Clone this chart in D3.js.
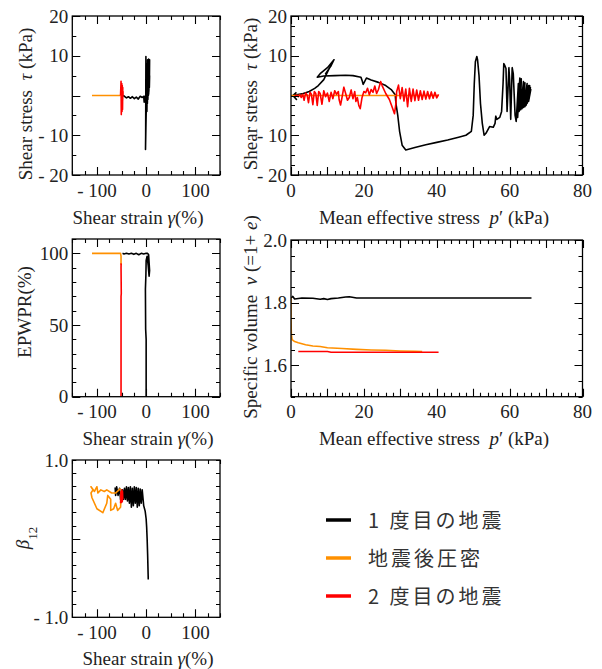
<!DOCTYPE html>
<html>
<head>
<meta charset="utf-8">
<script src="https://cdnjs.cloudflare.com/ajax/libs/d3/7.8.5/d3.min.js"></script>
</head>
<body style="margin:0">
<div class="main"></div>
<script>
var container = d3.select('.main');
var options = {
    'width': 602,
    'height': 669,
};

// series colours / legend
var legendNames = ['1 度目の地震', '地震後圧密', '2 度目の地震'];
var colors = ['#000000', '#ff9000', '#ff0000'];

// tick labels
var strainLabelValues = [-100, 0, 100];
var strainLabels = ['- 100', '0', '100'];
var tauLabelValues = [20, 10, -10, -20];
var tauLabels = ['20', '10', '- 10', '- 20'];
var pLabelValues = [0, 20, 40, 60, 80];
var pLabels = ['0', '20', '40', '60', '80'];
var epwprLabelValues = [0, 50, 100];
var epwprLabels = ['0', '50', '100'];
var volLabelValues = [1.6, 1.8, 2.0];
var volLabels = ['1.6', '1.8', '2.0'];
var betaLabelValues = [1, -1];
var betaLabels = ['1.0', '- 1.0'];

// shear stress tau vs shear strain gamma  [gamma, tau]
var tauGamma1st = [[0, 0], [0.5, 4], [0, -3], [-0.5, 7], [-0.5, -6], [-0.5, 9.8], [-1, -10], [-1.3, -13.6], [-0.5, -8],
    [2, 8], [1.5, -4], [3, 9], [2.5, -2], [4, 8.5], [3.5, -1], [5, 9.2], [4.5, 0], [6, 8.8], [5.5, 1], [7, 9],
    [6.5, 2], [7, 5], [5, 0.3], [2, 0], [-1, 0], [-3, -0.3], [-4, -1.7], [-5, -0.2], [-8, -0.5], [-12, -0.2],
    [-16, -0.9], [-20, -0.4], [-24, -0.8], [-28, -0.3], [-32, -0.7], [-36, -0.3], [-40, -0.6], [-44, -0.2], [-47, 0]];
var tauGammaComp = [[-110, 0], [-80, 0], [-52, 0]];
var tauGamma2nd = [[-52, 0], [-51, 3.6], [-50.5, -4.8], [-49.5, 3], [-49, -4], [-48.5, 2.5], [-48, -3.5], [-47.5, 2],
    [-48, -2], [-47, 1], [-47, 0]];

// shear stress tau vs mean effective stress p'  [p, tau]
var tauP1st = [[65.5, 0], [65.8, 1.5], [65.2, -1.5], [65.7, 2], [64.8, -2], [65.5, 2.5], [64.5, -2.5], [65.2, 2.5],
    [64.2, -2.8], [64.8, 3], [63.8, -3], [64.2, 3.2], [63.4, -3.3], [63.8, 3.5], [63, -3.6], [63.2, 4.2], [62.6, -4],
    [62.8, 4.4], [62.2, -5.5], [62.4, 3], [61.8, -6.5], [61.5, -5], [61, 5.5], [60.7, 7], [60.3, -6], [60, 4],
    [59.8, 7], [59.3, -4], [59, 6.8], [58.7, 7.5], [58.4, 8], [58.2, 3], [57.8, -4], [57.3, -5.5], [56.5, -6],
    [56.2, -5.2], [56, -7], [55.5, -8], [54.5, -7.8], [53.5, -9.5], [53, -10], [52.5, -7], [52, -2], [51.6, 5],
    [51.2, 9], [51, 9.8], [50.6, 8.5], [50.3, 3], [50, -5], [49.5, -9], [48, -10], [46, -10.5], [43, -11.2],
    [40, -11.8], [37, -12.4], [34, -13.1], [31.5, -13.7], [30.5, -12.5], [29.8, -9], [29.3, -5], [28.8, -2],
    [28.6, 0.2], [27.5, 1.5], [26, 2.5], [24, 3.3], [22, 3.9], [20.7, 4.4], [20.2, 3.5], [19.8, 2.8], [19.6, 3.5],
    [19.2, 4.6], [17, 5], [15, 5.1], [12, 5], [9, 4.9], [7.2, 4.6], [8, 5.5], [10, 7], [11.8, 9], [11, 7.5],
    [9.5, 5.5], [10.5, 6.8], [9, 4], [7.5, 2.5], [6.5, 1.8], [5, 1], [3, 0.4], [1.5, 0.2], [0.6, 0], [1.5, -1],
    [0.5, 0], [1.5, 0.8]];
var tauPComp = [[0, 0], [20, 0], [40.5, 0]];
var tauP2nd = [[40.5, 0.3], [40, -0.6], [39.5, 0.8], [39, -0.7], [38.5, 0.9], [38, -0.8], [37.5, 1.0], [37, -0.9],
    [36.5, 1.1], [36, -1.0], [35.5, 1.2], [35, -1.2], [34.5, 1.4], [34, -1.3], [33.5, 1.6], [33, -1.5], [32.5, 1.8],
    [32, -2.8], [31.5, 1.6], [31, -1.4], [30.5, 2.0], [30, -0.8], [29.5, 2.6], [29, 1.0], [28.8, -2], [28.4, -4.6],
    [27.8, -3], [27, -1], [26, 0.5], [25, 2.5], [24.6, 3.5], [24, 1.5], [23.5, 0.5], [23, 2.4], [22.5, 0.8],
    [22, 1.5], [21.5, 0.2], [21, 1.8], [20.5, 0.7], [20, 1.0], [19.5, -0.5], [19, -3.3], [18.6, -2.5],
    [18.2, -0.5], [17.8, -1.5], [17.5, 1.0], [17, -0.8], [16.5, 1.4], [16, -0.5], [15.5, -1.2], [15, 0.5],
    [14.5, 2.1], [14, -0.5], [13.6, -2.4], [13.2, -1], [13, 1.0], [12.5, 0.3], [12, 1.2], [11.5, -0.8], [11, 0.8],
    [10.5, -1.5], [10, 0.6], [9.5, -0.3], [9, 1.2], [8.5, -2.2], [8, 0.5], [7.6, 1.0], [7.2, -2.5], [6.8, 0.5],
    [6.4, 1.0], [6, -2.3], [5.6, 0.3], [5.2, 0.8], [4.8, -1.8], [4.4, 0.2], [4, 0.6], [3.6, -1.2], [3.2, 0.3],
    [2.8, -0.5], [2.4, 0.2], [2, -0.3], [1.5, 0.1], [1, -0.2]];

// excess pore water pressure ratio vs gamma  [gamma, EPWPR]
var epwpr1st = [[0, 0], [0, 40], [-1, 47], [-1.5, 75], [-0.5, 85], [0, 95], [2, 98], [4, 92], [6, 84], [7, 88],
    [5, 99], [3, 100], [0, 100], [-5, 99.5], [-10, 100], [-15, 99], [-20, 100], [-25, 99.3], [-30, 100],
    [-35, 99.5], [-40, 100], [-45, 99.6], [-48, 100]];
var epwprComp = [[-110, 100], [-80, 100], [-52, 100], [-51, 98], [-51, 92]];
var epwpr2nd = [[-51, 0], [-51, 70], [-50.5, 72], [-51, 90], [-50.8, 93]];

// specific volume vs p'  [p, v]
var vol1st = [[0, 1.815], [0.5, 1.82], [1, 1.812], [3, 1.815], [6, 1.814], [8, 1.811], [9, 1.813], [10, 1.81],
    [11, 1.813], [13, 1.815], [15, 1.818], [16, 1.819], [18, 1.815], [30, 1.815], [50, 1.815], [66, 1.815]];
var volComp = [[0, 1.816], [0, 1.75], [0.1, 1.7], [0.3, 1.682], [1, 1.676], [2, 1.672], [4, 1.666], [6, 1.662],
    [8, 1.66], [10, 1.656], [14, 1.654], [18, 1.651], [22, 1.649], [26, 1.648], [30, 1.646], [34, 1.645], [36, 1.644]];
var vol2nd = [[2, 1.644], [10, 1.644], [11, 1.642], [20, 1.642], [30, 1.642], [40.5, 1.642]];

// beta12 vs gamma  [gamma, beta]
var beta1st = [[4.3, -0.52], [4, -0.45], [3, -0.2], [2, 0], [1, 0.15], [0, 0.25], [-2, 0.35], [-5, 0.42],
    [-8, 0.62], [-10, 0.45], [-12, 0.63], [-14, 0.42], [-16, 0.64], [-18, 0.4], [-20, 0.65], [-22, 0.45],
    [-24, 0.66], [-26, 0.42], [-28, 0.64], [-30, 0.4], [-32, 0.66], [-34, 0.45], [-36, 0.65], [-38, 0.48],
    [-40, 0.66], [-42, 0.5], [-44, 0.64], [-46, 0.5], [-48, 0.62], [-52, 0.5], [-54, 0.64], [-57, 0.55],
    [-60, 0.66], [-62, 0.55], [-63, 0.65]];
var betaComp = [[-50, 0.62], [-52, 0.4], [-58, 0.36], [-62, 0.45], [-66, 0.38], [-72, 0.36], [-72, 0.5],
    [-78, 0.55], [-80, 0.45], [-88, 0.33], [-100, 0.38], [-110, 0.52], [-112, 0.58], [-108, 0.62], [-112, 0.66],
    [-105, 0.6], [-100, 0.66], [-98, 0.58], [-92, 0.62], [-85, 0.6], [-80, 0.62], [-70, 0.58], [-62, 0.58],
    [-55, 0.62], [-52, 0.64]];
var beta2nd = [[-52, 0.45], [-51, 0.6], [-50, 0.46], [-49.5, 0.62], [-48.5, 0.47], [-48, 0.6], [-47.5, 0.5]];

var svg = container
    .append('svg')
    .attr('width', options.width)
    .attr('height', options.height);

var serif = 'Liberation Serif';
var panelId = 0;
var tickPath = d3.path();

function drawPanel(p) {
    panelId++;
    var x = d3.scaleLinear().domain(p.xDomain).range([p.left, p.right]);
    var y = d3.scaleLinear().domain(p.yDomain).range([p.bottom, p.top]);

    // clip + series
    svg.append('clipPath')
        .attr('id', 'clip' + panelId)
        .append('rect')
        .attr('x', p.left)
        .attr('y', p.top)
        .attr('width', p.right - p.left)
        .attr('height', p.bottom - p.top);

    var line = d3.line()
        .x(function (d) { return x(d[0]); })
        .y(function (d) { return y(d[1]); });

    p.series.forEach(function (s, i) {
        svg.append('path')
            .datum(s)
            .attr('d', line)
            .attr('clip-path', 'url(#clip' + panelId + ')')
            .style('fill', 'none')
            .style('stroke', colors[i])
            .style('stroke-width', '1.6px')
            .style('stroke-linejoin', 'round');
    });

    // frame
    svg.append('rect')
        .attr('x', p.left)
        .attr('y', p.top)
        .attr('width', p.right - p.left)
        .attr('height', p.bottom - p.top)
        .style('fill', 'none')
        .style('stroke', '#000')
        .style('stroke-width', '1.3px');

    // inward ticks, collected into one path drawn at the end
    [[p.xMinor, 4], [p.xMajor, 8]].forEach(function (s) {
        s[0].forEach(function (v) {
            var px = Math.round(x(v)) + 0.5;
            tickPath.moveTo(px, p.bottom); tickPath.lineTo(px, p.bottom - s[1]);
            tickPath.moveTo(px, p.top); tickPath.lineTo(px, p.top + s[1]);
        });
    });
    [[p.yMinor, 4], [p.yMajor, 8]].forEach(function (s) {
        s[0].forEach(function (v) {
            var py = Math.round(y(v)) + 0.5;
            tickPath.moveTo(p.left, py); tickPath.lineTo(p.left + s[1], py);
            tickPath.moveTo(p.right, py); tickPath.lineTo(p.right - s[1], py);
        });
    });

    // tick labels
    svg.selectAll('.xlab' + panelId)
        .data(p.xLabelValues)
        .enter()
        .append('text')
        .attr('class', 'xlab' + panelId)
        .text(function (d, i) { return p.xLabels[i]; })
        .attr('x', function (d) { return x(d); })
        .attr('y', p.bottom + 21.5)
        .attr('text-anchor', 'middle')
        .style('font-family', serif)
        .style('font-size', '19px')
        .style('fill', '#222')
        .style('white-space', 'pre');

    svg.selectAll('.ylab' + panelId)
        .data(p.yLabelValues)
        .enter()
        .append('text')
        .attr('class', 'ylab' + panelId)
        .text(function (d, i) { return p.yLabels[i]; })
        .attr('x', p.left - 4)
        .attr('y', function (d) { return y(d) + 6.5; })
        .attr('text-anchor', 'end')
        .style('font-family', serif)
        .style('font-size', '19px')
        .style('fill', '#222')
        .style('white-space', 'pre');

    // x title
    var xt = svg.append('text')
        .attr('x', p.xTitleX)
        .attr('y', p.xTitleY)
        .attr('text-anchor', 'middle')
        .style('font-family', serif)
        .style('font-size', '19px')
        .style('fill', '#222')
        .style('white-space', 'pre');
    p.xTitle.forEach(function (part) {
        xt.append('tspan').text(part[0]).style('font-style', part[1] ? 'italic' : 'normal');
    });

    // y title
    var yt = svg.append('text')
        .attr('transform', 'translate(' + p.yTitleX + ',' + p.yTitleY + ') rotate(-90)')
        .attr('text-anchor', 'middle')
        .style('font-family', serif)
        .style('font-size', '19px')
        .style('fill', '#222')
        .style('white-space', 'pre');
    p.yTitle.forEach(function (part) {
        var ts = yt.append('tspan').text(part[0]).style('font-style', part[1] ? 'italic' : 'normal');
        if (part[2]) {
            ts.attr('baseline-shift', 'sub').style('font-size', '13px');
        }
    });
}

var strainMinor = d3.range(-150, 151, 25);
var strainMajor = [-100, 0, 100];
var pMinor = d3.range(0, 81, 2);
var pMajor = d3.range(0, 81, 10);

var strainTitle = [['Shear strain ', false], ['γ', true], ['(%)', false]];
var pTitle = [['Mean effective stress  ', false], ['p', true], ['′ (kPa)', false]];
var tauTitle = [['Shear stress  ', false], ['τ', true], [' (kPa)', false]];

// top left: tau - gamma
drawPanel({
    left: 72.3, right: 220, top: 16, bottom: 175,
    xDomain: [-150, 150], yDomain: [-20, 20],
    xMinor: strainMinor, xMajor: strainMajor,
    yMinor: d3.range(-20, 21, 5), yMajor: [-20, -10, 0, 10, 20],
    xLabelValues: strainLabelValues, xLabels: strainLabels,
    yLabelValues: tauLabelValues, yLabels: tauLabels,
    xTitle: strainTitle, xTitleX: 138, xTitleY: 224,
    yTitle: tauTitle, yTitleX: 32, yTitleY: 104,
    series: [tauGamma1st, tauGammaComp, tauGamma2nd]
});

// top right: tau - p'
drawPanel({
    left: 291, right: 582.5, top: 16, bottom: 175,
    xDomain: [0, 80], yDomain: [-20, 20],
    xMinor: pMinor, xMajor: pMajor,
    yMinor: d3.range(-20, 21, 2.5), yMajor: [-20, -10, 0, 10, 20],
    xLabelValues: pLabelValues, xLabels: pLabels,
    yLabelValues: tauLabelValues, yLabels: tauLabels,
    xTitle: pTitle, xTitleX: 434, xTitleY: 224,
    yTitle: tauTitle, yTitleX: 257, yTitleY: 94,
    series: [tauP1st, tauPComp, tauP2nd]
});

// middle left: EPWPR - gamma
drawPanel({
    left: 72.3, right: 220, top: 239, bottom: 396.7,
    xDomain: [-150, 150], yDomain: [0, 110],
    xMinor: strainMinor, xMajor: strainMajor,
    yMinor: d3.range(0, 111, 10), yMajor: [0, 50, 100],
    xLabelValues: strainLabelValues, xLabels: strainLabels,
    yLabelValues: epwprLabelValues, yLabels: epwprLabels,
    xTitle: strainTitle, xTitleX: 148, xTitleY: 445,
    yTitle: [['EPWPR(%)', false]], yTitleX: 31, yTitleY: 312,
    series: [epwpr1st, epwprComp, epwpr2nd]
});

// middle right: specific volume - p'
drawPanel({
    left: 291, right: 582.5, top: 240, bottom: 396.7,
    xDomain: [0, 80], yDomain: [1.5, 2.0],
    xMinor: pMinor, xMajor: pMajor,
    yMinor: d3.range(1.5, 2.001, 0.05), yMajor: [1.6, 1.8, 2.0],
    xLabelValues: pLabelValues, xLabels: pLabels,
    yLabelValues: volLabelValues, yLabels: volLabels,
    xTitle: pTitle, xTitleX: 434, xTitleY: 445,
    yTitle: [['Specific volume  ', false], ['v', true], [' (=1+ ', false], ['e', true], [')', false]],
    yTitleX: 257, yTitleY: 317,
    series: [vol1st, volComp, vol2nd]
});

// bottom left: beta12 - gamma
drawPanel({
    left: 72.3, right: 220, top: 460, bottom: 617.3,
    xDomain: [-150, 150], yDomain: [-1, 1],
    xMinor: strainMinor, xMajor: strainMajor,
    yMinor: d3.range(-1, 1.001, 1 / 6), yMajor: [0],
    xLabelValues: strainLabelValues, xLabels: strainLabels,
    yLabelValues: betaLabelValues, yLabels: betaLabels,
    xTitle: strainTitle, xTitleX: 148, xTitleY: 665,
    yTitle: [['β', true], ['12', false, true]], yTitleX: 29, yTitleY: 538,
    series: [beta1st, betaComp, beta2nd]
});

// legend
var legend = svg.append('g').attr('transform', 'translate(326,520)');

var items = legend.selectAll('.item')
    .data(legendNames)
    .enter()
    .append('g')
    .attr('class', 'item')
    .attr('transform', function (d, i) {
        return 'translate(0,' + (i * 38) + ')';
    });

items.append('line')
    .attr('x1', 0)
    .attr('x2', 25)
    .attr('y1', 0)
    .attr('y2', 0)
    .style('stroke', function (d, i) { return colors[i]; })
    .style('stroke-width', '3.5px');

items.append('text')
    .text(function (d) { return d; })
    .attr('x', 42)
    .attr('y', 7.5)
    .style('font-family', "'Noto Sans CJK JP', sans-serif")
    .style('font-size', '20px')
    .style('letter-spacing', '3px')
    .style('fill', '#333');

// all tick marks, on top of everything
svg.append('path')
    .attr('d', tickPath.toString())
    .style('fill', 'none')
    .style('stroke', '#000')
    .style('stroke-width', '1.1px');
</script>
</body>
</html>
